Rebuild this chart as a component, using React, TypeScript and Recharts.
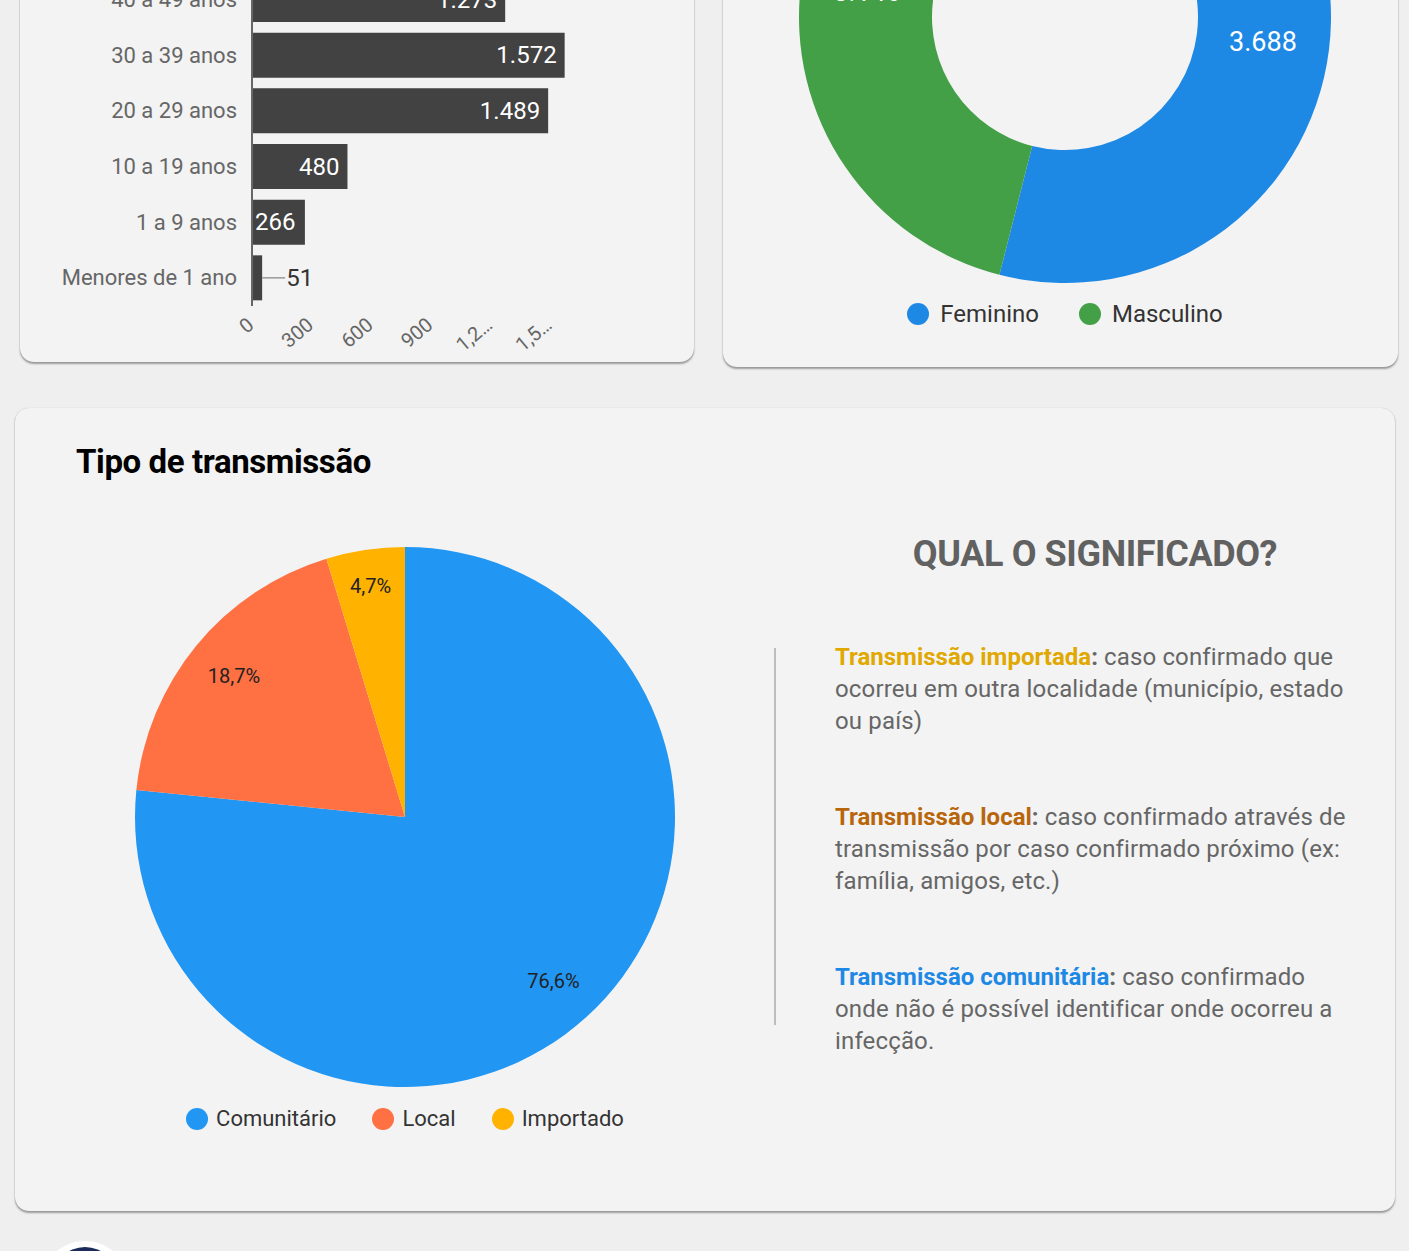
import React from "react";
import {
  BarChart,
  Bar,
  XAxis,
  YAxis,
  PieChart,
  Pie,
  Cell,
  Legend,
  LabelList,
} from "recharts";

// faixa etária (top of the card is cut off in the screenshot)
const ageGroups = [
  "40 a 49 anos",
  "30 a 39 anos",
  "20 a 29 anos",
  "10 a 19 anos",
  "1 a 9 anos",
  "Menores de 1 ano",
];
const ageCases = [1273, 1572, 1489, 480, 266, 51];
const ageTicks = [0, 300, 600, 900, 1200, 1500];
const ageTickLabels = ["0", "300", "600", "900", "1,2…", "1,5…"];

const sexNames = ["Feminino", "Masculino"];
const sexCases = [3688, 3146];
const sexColors = ["#1e88e5", "#43a047"];

const transNames = ["Comunitário", "Local", "Importado"];
const transShares = [76.6, 18.7, 4.7];
const transColors = ["#2196f3", "#ff7043", "#ffb300"];

const ageData = ageGroups.map((g, i) => ({ name: g, value: ageCases[i] }));
const sexData = sexNames.map((n, i) => ({ name: n, value: sexCases[i] }));
const transData = transNames.map((n, i) => ({ name: n, value: transShares[i] }));

const FONT = "Roboto, 'Noto Sans', sans-serif";
const RAD = Math.PI / 180;

const fmtThousands = (v: number) =>
  String(v).replace(/\B(?=(\d{3})+(?!\d))/g, ".");

const card: React.CSSProperties = {
  position: "absolute",
  background: "#f3f3f3",
  borderRadius: 14,
  boxShadow: "0 2px 2px rgba(0,0,0,0.35), 0 0 1px rgba(0,0,0,0.25)",
};

const AgeTick = ({ x, y, payload }: any) => {
  const i = ageTicks.indexOf(payload.value);
  return (
    <text
      x={x + 3}
      y={y + 13}
      transform={`rotate(-40, ${x + 3}, ${y + 13})`}
      textAnchor="end"
      fontSize={20}
      fill="#666"
      fontFamily={FONT}
    >
      {ageTickLabels[i]}
    </text>
  );
};

const AgeCatTick = ({ x, y, payload }: any) => (
  <text
    x={x - 7}
    y={y}
    dy={7}
    textAnchor="end"
    fontSize={22}
    fill="#666"
    fontFamily={FONT}
  >
    {payload.value}
  </text>
);

const BarValue = (props: any) => {
  const { x, y, width, height, value } = props;
  const cy = y + height / 2 + 8;
  const txt = fmtThousands(value);
  if (width > 80) {
    return (
      <text x={x + width - 8} y={cy} textAnchor="end" fill="#fff" fontSize={24} fontFamily={FONT}>
        {txt}
      </text>
    );
  }
  if (width > 40) {
    return (
      <text x={x + 3} y={cy} textAnchor="start" fill="#fff" fontSize={24} fontFamily={FONT}>
        {txt}
      </text>
    );
  }
  return (
    <g>
      <line x1={x + width} x2={x + width + 23} y1={y + height / 2} y2={y + height / 2} stroke="#999" strokeWidth={1.5} />
      <text x={x + width + 24} y={cy} textAnchor="start" fill="#333" fontSize={24} fontFamily={FONT}>
        {txt}
      </text>
    </g>
  );
};

const SexLabel = ({ cx, cy, midAngle, innerRadius, outerRadius, value }: any) => {
  const r = (innerRadius + outerRadius) / 2;
  const x = cx + r * Math.cos(-midAngle * RAD);
  const y = cy + r * Math.sin(-midAngle * RAD);
  return (
    <text x={x} y={y} dy={9} textAnchor="middle" fill="#fff" fontSize={27} fontFamily={FONT}>
      {fmtThousands(value)}
    </text>
  );
};

const TransLabel = ({ cx, cy, midAngle, outerRadius, value, percent }: any) => {
  const r = outerRadius * (percent < 0.1 ? 0.865 : 0.82);
  const x = cx + r * Math.cos(-midAngle * RAD);
  const y = cy + r * Math.sin(-midAngle * RAD);
  return (
    <text x={x} y={y} dy={7} textAnchor="middle" fill="#222" fontSize={20} fontFamily={FONT}>
      {value.toFixed(1).replace(".", ",")}%
    </text>
  );
};

const makeLegend = (names: string[], colors: string[], gap: number, size: number, iconGap: number) => () => (
  <div style={{ display: "flex", justifyContent: "center", alignItems: "center", fontFamily: FONT }}>
    {names.map((n, i) => (
      <div key={n} style={{ display: "flex", alignItems: "center", marginRight: i < names.length - 1 ? gap : 0 }}>
        <span
          style={{
            display: "inline-block",
            width: 22,
            height: 22,
            borderRadius: 11,
            background: colors[i],
            marginRight: iconGap,
          }}
        />
        <span style={{ fontSize: size, color: "#333", lineHeight: "28px" }}>{n}</span>
      </div>
    ))}
  </div>
);

const para: React.CSSProperties = {
  position: "absolute",
  left: 835,
  width: 560,
  fontSize: 24,
  lineHeight: "32px",
  color: "#666",
  whiteSpace: "nowrap",
  letterSpacing: 0.15,
};

const hl = (color: string): React.CSSProperties => ({
  color,
  fontWeight: 700,
  letterSpacing: 0,
});

export default function App() {
  return (
    <div
      style={{
        position: "fixed",
        left: 0,
        top: 0,
        width: 1409,
        height: 1251,
        overflow: "hidden",
        background: "#efefef",
        fontFamily: FONT,
      }}
    >
      {/* faixa etária */}
      <div style={{ ...card, left: 20, top: -100, width: 674, height: 462 }} />
      <div style={{ position: "absolute", left: 20, top: -60 }}>
        <BarChart
          width={674}
          height={420}
          data={ageData}
          layout="vertical"
          margin={{ top: 32, right: 84, bottom: 14, left: 0 }}
        >
          <XAxis
            type="number"
            domain={[0, 1800]}
            ticks={ageTicks}
            axisLine={false}
            tickLine={false}
            height={40}
            tick={<AgeTick />}
            interval={0}
          />
          <YAxis
            type="category"
            dataKey="name"
            width={232}
            tickLine={false}
            axisLine={{ stroke: "#666", strokeWidth: 2 }}
            tick={<AgeCatTick />}
            interval={0}
          />
          <Bar dataKey="value" fill="#424242" barSize={45} isAnimationActive={false}>
            <LabelList dataKey="value" content={<BarValue />} />
          </Bar>
        </BarChart>
      </div>

      {/* sexo */}
      <div style={{ ...card, left: 723, top: -100, width: 675, height: 467 }} />
      <div style={{ position: "absolute", left: 723, top: -300 }}>
        <PieChart width={675} height={640} margin={{ top: 0, right: 0, bottom: 12, left: 9 }}>
          <Pie
            data={sexData}
            dataKey="value"
            nameKey="name"
            cx={333}
            cy={317}
            innerRadius={133}
            outerRadius={266}
            startAngle={90}
            endAngle={-270}
            stroke="none"
            label={<SexLabel />}
            labelLine={false}
            isAnimationActive={false}
          >
            {sexData.map((d, i) => (
              <Cell key={d.name} fill={sexColors[i]} />
            ))}
          </Pie>
          <Legend verticalAlign="bottom" content={makeLegend(sexNames, sexColors, 40, 24, 11)} />
        </PieChart>
      </div>

      {/* tipo de transmissão */}
      <div style={{ ...card, left: 15, top: 408, width: 1380, height: 803 }} />
      <div
        style={{
          position: "absolute",
          left: 76,
          top: 442,
          fontSize: 33,
          lineHeight: "40px",
          fontWeight: 700,
          color: "#000",
          letterSpacing: -0.4,
        }}
      >
        Tipo de transmissão
      </div>
      <div style={{ position: "absolute", left: 15, top: 500 }}>
        <PieChart width={780} height={650} margin={{ top: 0, right: 0, bottom: 17, left: 0 }}>
          <Pie
            data={transData}
            dataKey="value"
            nameKey="name"
            cx={390}
            cy={317}
            outerRadius={270}
            startAngle={90}
            endAngle={-270}
            stroke="none"
            label={<TransLabel />}
            labelLine={false}
            isAnimationActive={false}
          >
            {transData.map((d, i) => (
              <Cell key={d.name} fill={transColors[i]} />
            ))}
          </Pie>
          <Legend verticalAlign="bottom" content={makeLegend(transNames, transColors, 36, 22, 8)} />
        </PieChart>
      </div>

      <div
        style={{
          position: "absolute",
          left: 835,
          width: 520,
          top: 533,
          textAlign: "center",
          fontSize: 36,
          lineHeight: "42px",
          fontWeight: 700,
          color: "#616161",
          letterSpacing: -0.4,
        }}
      >
        QUAL O SIGNIFICADO?
      </div>
      <div style={{ position: "absolute", left: 774, top: 648, width: 2, height: 377, background: "#bdbdbd" }} />

      <div style={{ ...para, top: 641 }}>
        <b style={hl("#e0a800")}>Transmissão importada</b>
        <b style={{ letterSpacing: 0 }}>:</b> caso confirmado que
        <br />
        ocorreu em outra localidade (município, estado
        <br />
        ou país)
      </div>
      <div style={{ ...para, top: 801 }}>
        <b style={hl("#b8660b")}>Transmissão local</b>
        <b style={{ letterSpacing: 0 }}>:</b> caso confirmado através de
        <br />
        transmissão por caso confirmado próximo (ex:
        <br />
        família, amigos, etc.)
      </div>
      <div style={{ ...para, top: 961 }}>
        <b style={hl("#1e88e5")}>Transmissão comunitária</b>
        <b style={{ letterSpacing: 0 }}>:</b> caso confirmado
        <br />
        onde não é possível identificar onde ocorreu a
        <br />
        infecção.
      </div>

      {/* logo cortado no rodapé */}
      <div
        style={{
          position: "absolute",
          left: 40,
          top: 1241,
          width: 90,
          height: 90,
          borderRadius: 45,
          background: "#fff",
        }}
      />
      <div
        style={{
          position: "absolute",
          left: 52,
          top: 1247,
          width: 66,
          height: 66,
          borderRadius: 33,
          background: "#1a2b5c",
        }}
      />
    </div>
  );
}
